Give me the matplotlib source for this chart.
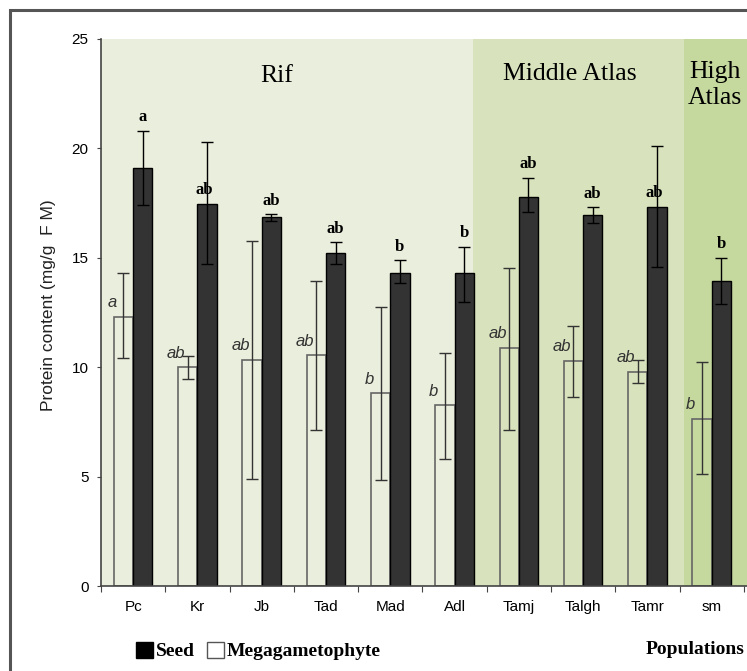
import numpy as np
import matplotlib
matplotlib.use("Agg")
import matplotlib.pyplot as plt
from matplotlib.patches import Patch, Rectangle

# protein content per population (mg/g FM)
populations = ["Pc", "Kr", "Jb", "Tad", "Mad", "Adl", "Tamj", "Talgh", "Tamr", "sm"]

seed_mean = [19.1, 17.45, 16.85, 15.2, 14.3, 14.3, 17.8, 16.95, 17.3, 13.95]
seed_err_hi = [20.8, 20.3, 17.0, 15.7, 14.9, 15.5, 18.65, 17.3, 20.1, 15.0]
seed_err_lo = [17.4, 14.7, 16.7, 14.7, 13.85, 13.0, 17.1, 16.6, 14.6, 12.9]
seed_letters = ["a", "ab", "ab", "ab", "b", "b", "ab", "ab", "ab", "b"]

mega_mean = [12.3, 10.0, 10.35, 10.55, 8.8, 8.25, 10.9, 10.3, 9.8, 7.65]
mega_err_hi = [14.3, 10.5, 15.75, 13.95, 12.75, 10.65, 14.55, 11.9, 10.35, 10.25]
mega_err_lo = [10.4, 9.45, 4.9, 7.15, 4.85, 5.8, 7.15, 8.65, 9.3, 5.1]
mega_letters = ["a", "ab", "ab", "ab", "b", "b", "ab", "ab", "ab", "b"]

# geographic regions shaded behind the bars: (name, start, end)
regions = [("Rif", -0.5, 5.29), ("Middle Atlas", 5.29, 8.57), ("High\nAtlas", 8.57, 9.6)]
region_colors = ["#eaeedc", "#d8e3bd", "#c5d89e"]

serif = ["Liberation Serif", "DejaVu Serif"]
sans = ["Liberation Sans", "DejaVu Sans"]


def main():
    fig = plt.figure(figsize=(7.47, 6.71), dpi=100)
    ax = fig.add_axes([101 / 747, 1 - 586 / 671, 646 / 747, 547 / 671])

    drawRegions(ax)
    drawBars(ax)
    styleAxes(ax)
    drawLegend(fig)

    # grey frame round the chart
    fig.patches.append(Rectangle((10 / 747, -0.05), 1.1, 1.05 - 10 / 671,
                                 transform=fig.transFigure, fill=False,
                                 edgecolor="#555555", lw=2.2))
    fig.savefig("out.png", dpi=100)


def drawRegions(ax):
    for (name, x0, x1), col in zip(regions, region_colors):
        ax.axvspan(x0, x1, color=col, lw=0, zorder=0)
    ax.text(2.24, 23.3, "Rif", family=serif, fontsize=18.5, ha="center", va="center")
    ax.text(6.8, 23.4, "Middle Atlas", family=serif, fontsize=18.5, ha="center", va="center")
    ax.text(9.05, 22.9, "High\nAtlas", family=serif, fontsize=18.5, ha="center", va="center",
            linespacing=1.2)


def drawBars(ax):
    x = np.arange(len(populations))
    w = 0.3
    mega = np.array(mega_mean)
    seed = np.array(seed_mean)

    ax.bar(x - w / 2, mega, w, facecolor="none", edgecolor="#666666", lw=1.2, zorder=2)
    ax.errorbar(x - w / 2, mega,
                yerr=[mega - np.array(mega_err_lo), np.array(mega_err_hi) - mega],
                fmt="none", ecolor="#333333", elinewidth=1, capsize=4, capthick=1, zorder=3)

    ax.bar(x + w / 2, seed, w, facecolor="#333333", edgecolor="black", lw=1, zorder=2)
    ax.errorbar(x + w / 2, seed,
                yerr=[seed - np.array(seed_err_lo), np.array(seed_err_hi) - seed],
                fmt="none", ecolor="black", elinewidth=1, capsize=4, capthick=1, zorder=3)

    for i in range(len(populations)):
        # Kr and Tamr letters sit beside the long error bar instead of on top of it
        if populations[i] in ("Kr", "Tamr"):
            ax.text(x[i] + 0.1, seed[i] + 0.3, seed_letters[i], family=serif, weight="bold",
                    fontsize=12, ha="center", va="bottom", zorder=4)
        else:
            ax.text(x[i] + w / 2, seed_err_hi[i] + 0.25, seed_letters[i], family=serif,
                    weight="bold", fontsize=12, ha="center", va="bottom", zorder=4)
        ax.text(x[i] - w - 0.03, mega[i] + 0.3, mega_letters[i], family=sans,
                style="italic", fontsize=12, color="#333333", ha="center", va="bottom",
                zorder=4)


def styleAxes(ax):
    ax.set_xlim(-0.5, 9.55)
    ax.set_ylim(0, 25)
    ax.set_yticks([0, 5, 10, 15, 20, 25])
    ax.set_yticklabels(["0", "5", "10", "15", "20", "25"], family=sans, fontsize=11)
    ax.set_xticks(np.arange(-0.5, 10, 1.0))
    ax.set_xticklabels([])
    ax.set_xticks(np.arange(len(populations)), minor=True)
    ax.set_xticklabels(populations, minor=True, family=sans, fontsize=11)
    ax.tick_params(axis="x", which="major", length=4, direction="out", color="#444444")
    ax.tick_params(axis="x", which="minor", length=0, pad=10)
    ax.tick_params(axis="y", length=3, direction="out", color="#444444", pad=6)
    for side in ("top", "right"):
        ax.spines[side].set_visible(False)
    for side in ("left", "bottom"):
        ax.spines[side].set_color("#444444")
        ax.spines[side].set_linewidth(1.2)
    ax.set_ylabel("Protein content (mg/g  F M)", family=sans, fontsize=12.5, color="#222222")
    ax.yaxis.set_label_coords(-0.07, 0.513)


def drawLegend(fig):
    handles = [Patch(facecolor="black", edgecolor="black"),
               Patch(facecolor="white", edgecolor="#555555")]
    fig.legend(handles, ["Seed", "Megagametophyte"], loc="center left",
               bbox_to_anchor=(118 / 747, 1 - 651 / 671), ncol=2, frameon=False,
               handlelength=0.9, handleheight=0.9, handletextpad=0.15, columnspacing=0.6,
               prop={"family": serif, "weight": "bold", "size": 14})
    fig.text(745 / 747, 1 - 650 / 671, "Populations", family=serif, weight="bold",
             fontsize=14, ha="right", va="center")


if __name__ == "__main__":
    main()
